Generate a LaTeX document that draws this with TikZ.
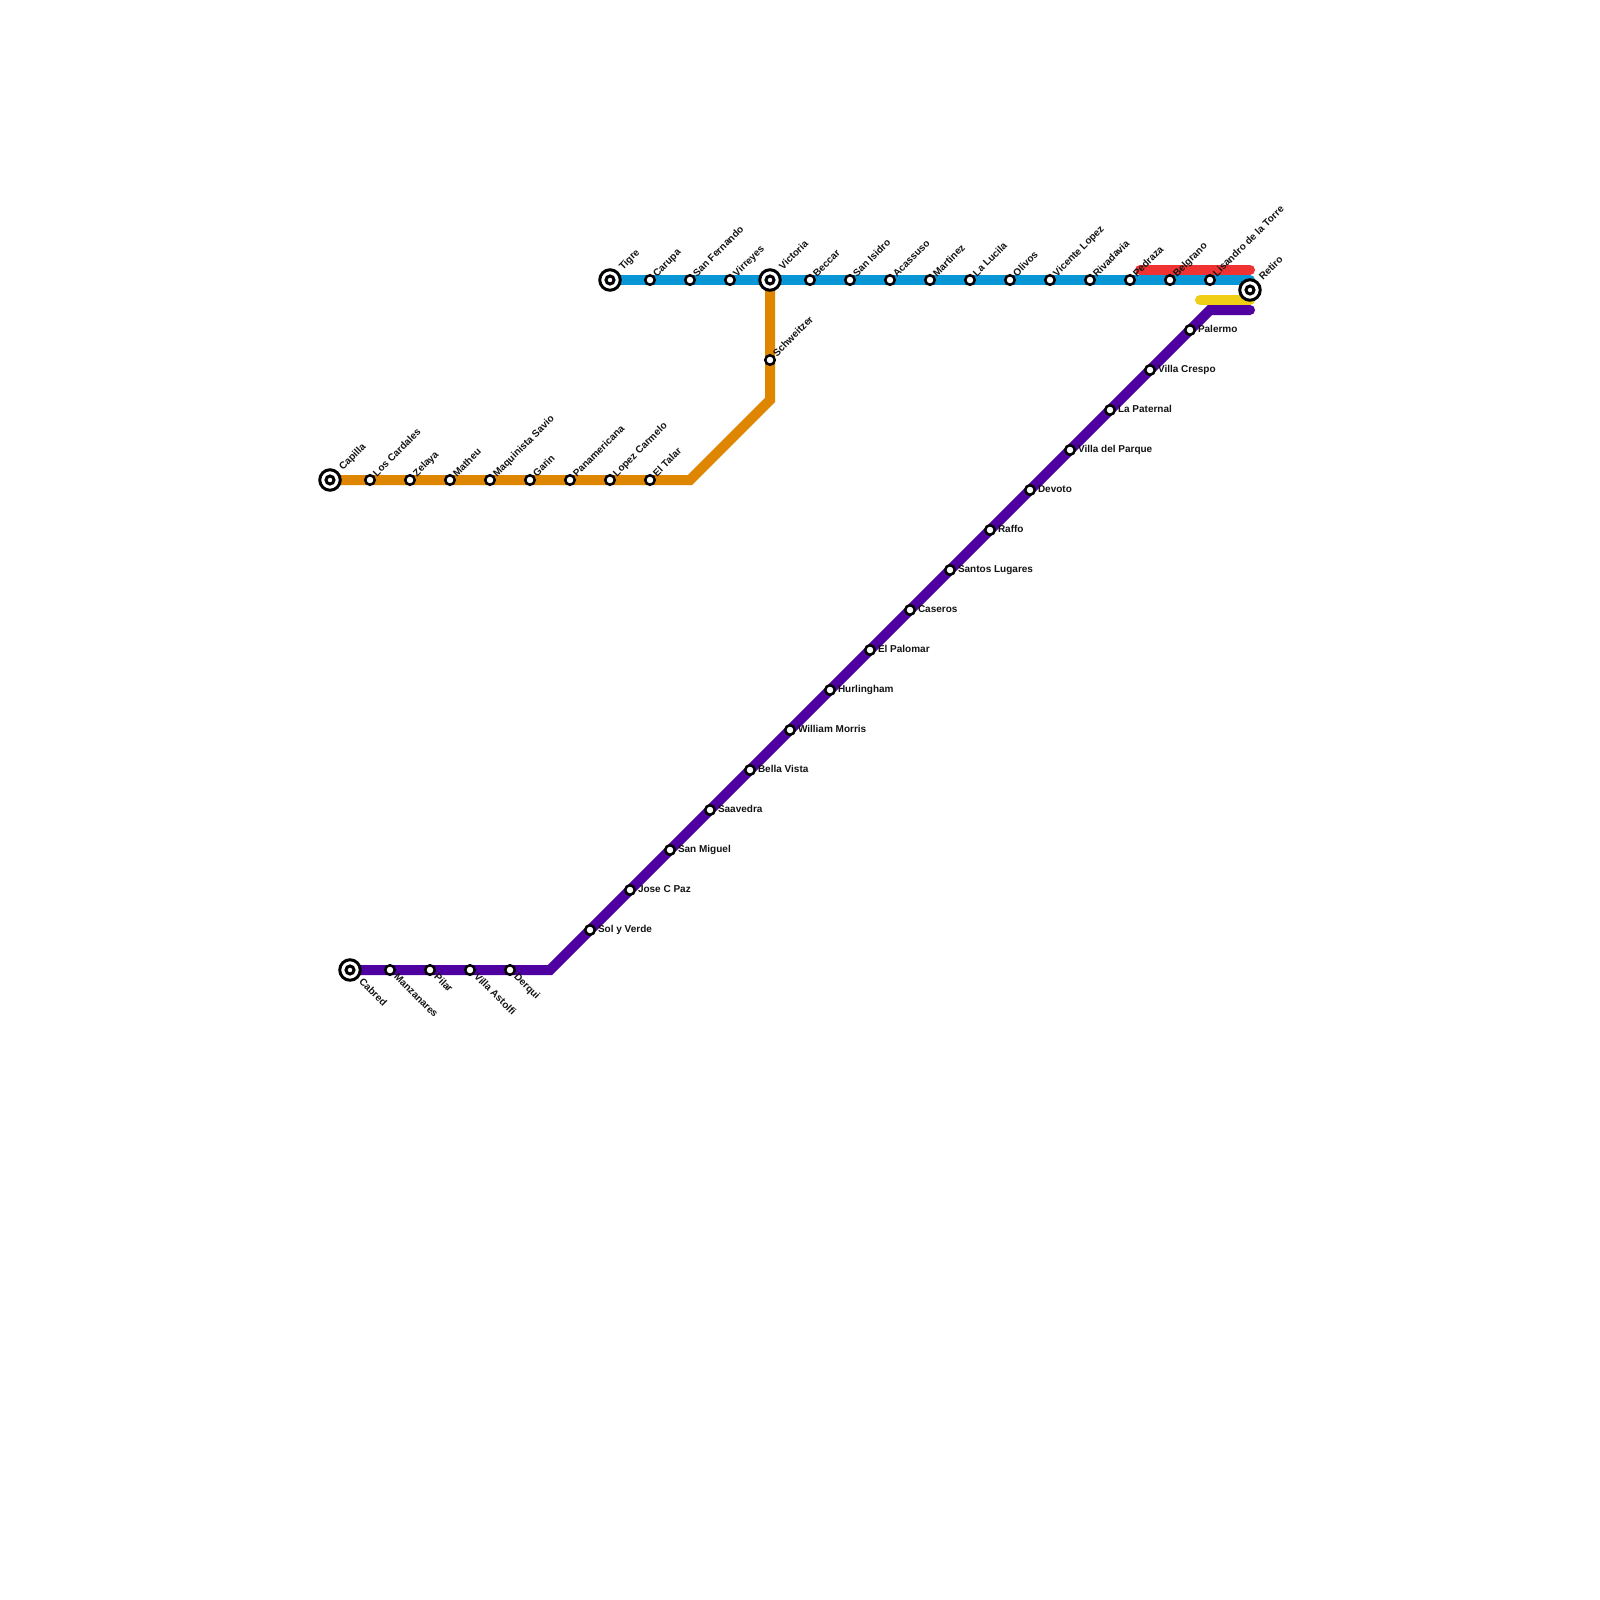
\documentclass[tikz,border=0pt]{standalone}
\usepackage{fontspec}
\setmainfont{Liberation Sans}
\usetikzlibrary{backgrounds,calc}
\definecolor{lblue}{HTML}{0896D7}
\definecolor{lorange}{HTML}{DF8600}
\definecolor{lpurple}{HTML}{4F00A0}
\definecolor{lred}{HTML}{F03232}
\definecolor{lyellow}{HTML}{F0CE15}
\tikzset{
  x=0.5pt,y=-0.5pt,
  metroline/.style={line width=5pt,line cap=round,line join=miter},
  stationdot/.style={circle,draw=black,fill=white,line width=1.25pt,minimum size=4.75pt,inner sep=0pt,outer sep=0pt},
  terminalring/.style={circle,draw=black,fill=white,line width=1.5pt,minimum size=10.25pt,inner sep=0pt,outer sep=0pt},
  terminalcore/.style={circle,draw=black,fill=white,line width=1.5pt,minimum size=4pt,inner sep=0pt,outer sep=0pt},
  lab/.style={font=\bfseries\fontsize{5pt}{5.6pt}\selectfont,text=black!92,inner sep=0pt,outer sep=0pt,anchor=base west}
}
% name, x, y, label
\newcommand{\stnup}[4]{\node[stationdot] (#1) at (#2,#3) {};\node[lab,rotate=45] (#1-l) at ($(#2,#3)+(7,-2.8)$) {#4};}
\newcommand{\stndn}[4]{\node[stationdot] (#1) at (#2,#3) {};\node[lab,rotate=-45] (#1-l) at ($(#2,#3)+(3.6,7.4)$) {#4};}
\newcommand{\stnrt}[4]{\node[stationdot] (#1) at (#2,#3) {};\node[lab] (#1-l) at ($(#2,#3)+(8,2.6)$) {#4};}
\newcommand{\termup}[4]{\node[terminalring] (#1) at (#2,#3) {};\node[terminalcore] (#1-c) at (#2,#3) {};\node[lab,rotate=45] (#1-l) at ($(#2,#3)+(13,-9.6)$) {#4};}
\newcommand{\termdn}[4]{\node[terminalring] (#1) at (#2,#3) {};\node[terminalcore] (#1-c) at (#2,#3) {};\node[lab,rotate=-45] (#1-l) at ($(#2,#3)+(8.6,12.4)$) {#4};}
\begin{document}
\begin{tikzpicture}
\useasboundingbox (0,0) rectangle (1600,1600);
% blue line stations
\termup{tigre}{610}{280}{Tigre}
\stnup{carupa}{650}{280}{Carupa}
\stnup{sanfer}{690}{280}{San Fernando}
\stnup{virreyes}{730}{280}{Virreyes}
\termup{victoria}{770}{280}{Victoria}
\stnup{beccar}{810}{280}{Beccar}
\stnup{sanisidro}{850}{280}{San Isidro}
\stnup{acassuso}{890}{280}{Acassuso}
\stnup{martinez}{930}{280}{Martinez}
\stnup{lucila}{970}{280}{La Lucila}
\stnup{olivos}{1010}{280}{Olivos}
\stnup{vlopez}{1050}{280}{Vicente Lopez}
\stnup{rivadavia}{1090}{280}{Rivadavia}
\stnup{pedraza}{1130}{280}{Pedraza}
\stnup{belgrano}{1170}{280}{Belgrano}
\stnup{lisandro}{1210}{280}{Lisandro de la Torre}
\termup{retiro}{1250}{290}{Retiro}
% orange line stations
\termup{capilla}{330}{480}{Capilla}
\stnup{cardales}{370}{480}{Los Cardales}
\stnup{zelaya}{410}{480}{Zelaya}
\stnup{matheu}{450}{480}{Matheu}
\stnup{maquinista}{490}{480}{Maquinista Savio}
\stnup{garin}{530}{480}{Garin}
\stnup{panam}{570}{480}{Panamericana}
\stnup{carmelo}{610}{480}{Lopez Carmelo}
\stnup{talar}{650}{480}{El Talar}
\stnup{schweitzer}{770}{360}{Schweitzer}
% purple line stations
\termdn{cabred}{350}{970}{Cabred}
\stndn{manzanares}{390}{970}{Manzanares}
\stndn{pilar}{430}{970}{Pilar}
\stndn{astolfi}{470}{970}{Villa Astolfi}
\stndn{derqui}{510}{970}{Derqui}
\stnrt{solyverde}{590}{930}{Sol y Verde}
\stnrt{josepaz}{630}{890}{Jose C Paz}
\stnrt{sanmiguel}{670}{850}{San Miguel}
\stnrt{saavedra}{710}{810}{Saavedra}
\stnrt{bellavista}{750}{770}{Bella Vista}
\stnrt{wmorris}{790}{730}{William Morris}
\stnrt{hurlingham}{830}{690}{Hurlingham}
\stnrt{palomar}{870}{650}{El Palomar}
\stnrt{caseros}{910}{610}{Caseros}
\stnrt{santos}{950}{570}{Santos Lugares}
\stnrt{raffo}{990}{530}{Raffo}
\stnrt{devoto}{1030}{490}{Devoto}
\stnrt{parque}{1070}{450}{Villa del Parque}
\stnrt{paternal}{1110}{410}{La Paternal}
\stnrt{crespo}{1150}{370}{Villa Crespo}
\stnrt{palermo}{1190}{330}{Palermo}
% free ends and bends
\coordinate (oa) at (690,480);
\coordinate (ob) at (770,400);
\coordinate (pa) at (550,970);
\coordinate (pb) at (1210,310);
\coordinate (pe) at (1250,310);
\coordinate (be) at (1250,280);
\coordinate (ra) at (1140,270);
\coordinate (re) at (1250,270);
\coordinate (ya) at (1200,300);
\coordinate (ye) at (1250,300);
\begin{scope}[on background layer]
\fill[white] (0,0) rectangle (1600,1600);
\draw[metroline,lred] (ra) -- (re);
\draw[metroline,lblue] (tigre.center) -- (be);
\draw[metroline,lyellow] (ya) -- (ye);
\draw[metroline,lpurple] (cabred.center) -- (pa) -- (pb) -- (pe);
\draw[metroline,lorange] (capilla.center) -- (oa) -- (ob) -- (victoria.center);
\end{scope}
\end{tikzpicture}
\end{document}
